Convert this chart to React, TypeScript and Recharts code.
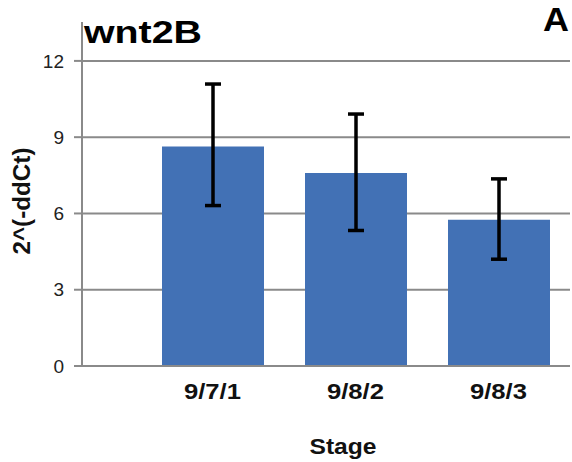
import { BarChart, Bar, XAxis, YAxis, CartesianGrid, ErrorBar, Label } from 'recharts';

const stages = ['9/7/1', '9/8/2', '9/8/3'];
const means = [8.63, 7.59, 5.75];
const errLow = [2.32, 2.26, 1.55];
const errHigh = [2.46, 2.32, 1.61];
const yTicks = [0, 3, 6, 9, 12];

const FONT = '"Liberation Sans", Arial, sans-serif';
const BAR_BLUE = '#4271b5';
const GRID = '#8a8a8a';

const data = stages.map((stage, i) => ({
    stage,
    value: means[i],
    err: [errLow[i], errHigh[i]],
}));

const StageTick = (props: any) => {
    const { x, y, payload } = props;
    return (
        <text x={x} y={y + 25} textAnchor="middle" fontFamily={FONT} fontSize={22} fontWeight="bold" fill="#111"
            textLength={57} lengthAdjust="spacingAndGlyphs">
            {payload.value}
        </text>
    );
};

const App = () => {
    return (
        <div style={{ position: 'fixed', left: 0, top: 0, width: 572, height: 462, background: '#fff' }}>
            <BarChart width={572} height={462} data={data} margin={{ top: 22, right: 2, left: 0, bottom: 0 }}>
                {/* horizontal gridlines only, at the labelled ticks */}
                <CartesianGrid vertical={false} horizontalValues={yTicks} stroke={GRID} strokeWidth={2} />

                <XAxis dataKey="stage" height={96} padding={{ left: 59, right: 0 }} tickLine={false}
                    axisLine={{ stroke: GRID, strokeWidth: 2 }} tick={<StageTick />}>
                    <Label content={({ viewBox }: any) => (
                        <text x={viewBox.x + viewBox.width / 2 + 17} y={viewBox.y + 88} textAnchor="middle"
                            fontFamily={FONT} fontSize={22} fontWeight="bold" fill="#111"
                            textLength={67} lengthAdjust="spacingAndGlyphs">
                            Stage
                        </text>
                    )} />
                </XAxis>

                <YAxis width={82} domain={[0, 13.53]} ticks={yTicks} interval={0} allowDataOverflow
                    tickSize={8} tickMargin={10} axisLine={{ stroke: GRID, strokeWidth: 2 }}
                    tickLine={{ stroke: GRID, strokeWidth: 2 }}
                    tick={{ fontSize: 19, fill: '#222', fontFamily: FONT }}>
                    <Label content={() => (
                        <text x={30} y={201} transform="rotate(-90 30 201)" textAnchor="middle"
                            fontFamily={FONT} fontSize={23} fontWeight="bold" fill="#111"
                            textLength={107} lengthAdjust="spacingAndGlyphs">
                            2^(-ddCt)
                        </text>
                    )} />
                </YAxis>

                <Bar dataKey="value" fill={BAR_BLUE} barSize={102} isAnimationActive={false}>
                    <ErrorBar dataKey="err" width={8} stroke="#000" strokeWidth={3.5} isAnimationActive={false} />
                </Bar>
            </BarChart>

            {/* title and panel letter */}
            <svg width={572} height={462} style={{ position: 'absolute', left: 0, top: 0, pointerEvents: 'none' }}>
                <text x={84} y={43} fontFamily={FONT} fontSize={32} fontWeight="bold" fill="#000"
                    textLength={118} lengthAdjust="spacingAndGlyphs">wnt2B</text>
                <text x={543} y={31} fontFamily={FONT} fontSize={34} fontWeight="bold" fill="#000"
                    textLength={26} lengthAdjust="spacingAndGlyphs">A</text>
            </svg>
        </div>
    );
};

export default App;
